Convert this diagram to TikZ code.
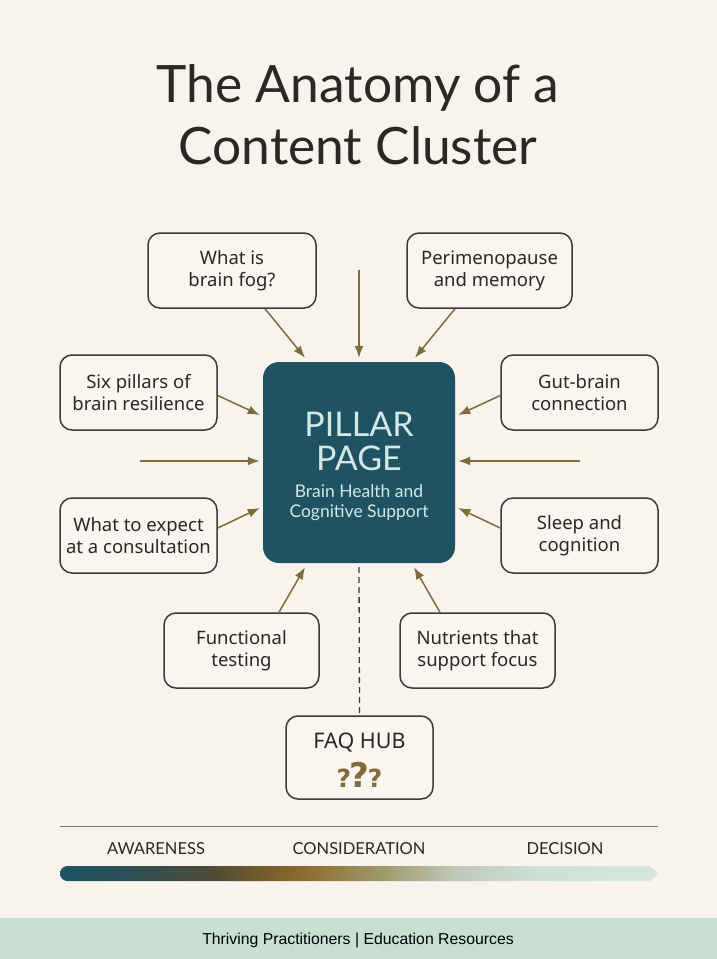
\documentclass[tikz,border=0pt]{standalone}
\usepackage{fontspec}
\setmainfont{Lato}
\newfontfamily\footfont{Liberation Sans}
\newfontfamily\boxfont{Noto Sans}
\newfontfamily\qfont{DejaVu Sans}
\usetikzlibrary{arrows.meta}
\definecolor{bg}{HTML}{F8F3EC}
\definecolor{boxfill}{HTML}{FAF6EF}
\definecolor{boxline}{HTML}{3A3A36}
\definecolor{teal}{HTML}{1F5364}
\definecolor{olive}{HTML}{7F6B3C}
\definecolor{ink}{HTML}{2A2824}
\definecolor{mintTxt}{HTML}{D2E8E4}
\definecolor{footer}{HTML}{C8E0D3}
\definecolor{divider}{HTML}{7A7A72}
\definecolor{gA}{HTML}{1F5364}
\definecolor{gA2}{HTML}{2A5058}
\definecolor{gB}{HTML}{504B36}
\definecolor{gC}{HTML}{8C6A2A}
\definecolor{gD}{HTML}{9E9A6C}
\definecolor{gE}{HTML}{C0C8B8}
\definecolor{gF}{HTML}{CFE0D6}
\definecolor{gG}{HTML}{D5E6DC}
\pgfdeclarehorizontalshading{stagebar}{100bp}{color(0bp)=(gA); color(25bp)=(gA); color(30bp)=(gA2); color(38bp)=(gB); color(45bp)=(gC); color(52bp)=(gD); color(58bp)=(gE); color(65bp)=(gF); color(75bp)=(gG); color(100bp)=(gG)}
\tikzset{
  topic/.style={draw=boxline, fill=boxfill, line width=1.5pt, rounded corners=12pt,
    minimum height=75pt, inner sep=0pt, align=center, text=ink,
    font=\boxfont\fontsize{18.5}{22}\selectfont},
  link/.style={draw=olive, line width=1.5pt, -{Latex[length=12pt,width=9pt]}},
}
\begin{document}
\begin{tikzpicture}[x=1pt,y=-1pt]
\useasboundingbox (0,0) rectangle (717,959);
\fill[bg] (0,0) rectangle (717,959);
\fill[footer] (0,918) rectangle (717,959);

% title
\node[text=ink, font=\fontsize{51.5}{60}\selectfont] (t1) at (358,88) {The Anatomy of a};
\node[text=ink, font=\fontsize{51.5}{60}\selectfont] (t2) at (358,146) {Content Cluster};

% pillar
\node[fill=teal, rounded corners=16pt, minimum width=192pt, minimum height=201pt, inner sep=0pt] (pillar) at (359,462.5) {};
\node[text=mintTxt, align=center, font=\fontsize{34}{34}\selectfont] (pt) at (359,441) {PILLAR\\PAGE};
\node[text=mintTxt, align=center, font=\fontsize{17.5}{20}\selectfont] (ps) at (359,503) {Brain Health and\\Cognitive Support};

% topic boxes
\node[topic, minimum width=168pt] (fog) at (232,270.5) {What is\\brain fog?};
\node[topic, minimum width=165pt] (peri) at (489.5,270.5) {Perimenopause\\and memory};
\node[topic, minimum width=157pt] (six) at (138.5,392.5) {Six pillars of\\brain resilience};
\node[topic, minimum width=157pt] (gut) at (579.5,392.5) {Gut-brain\\connection};
\node[topic, minimum width=157pt] (cons) at (138.5,535.5) {What to expect\\at a consultation};
\node[topic, minimum width=157pt] (sleep) at (579.5,535.5) {Sleep and\\cognition};
\node[topic, minimum width=155pt] (func) at (241.5,650.5) {Functional\\testing};
\node[topic, minimum width=155pt] (nut) at (477.5,650.5) {Nutrients that\\support focus};
\node[topic, minimum width=147pt, minimum height=83pt] (faq) at (359.5,757.5) {};
\node[text=ink, font=\boxfont\fontsize{21.5}{24}\selectfont] (faqt) at (359.5,743) {FAQ HUB};
\node[text=olive, font=\qfont\bfseries, inner sep=0pt, anchor=base] (faqq) at (359.5,787) {{\fontsize{25}{28}\selectfont ?}\kern-1.5pt{\fontsize{34}{36}\selectfont ?}\kern-1.5pt{\fontsize{25}{28}\selectfont ?}};

% free ends
\coordinate (topfree) at (359,270);
\coordinate (leftfree) at (140,461);
\coordinate (rightfree) at (580,461);

% connectors
\draw[link] ([xshift=33pt]fog.south) -- ([xshift=-54pt,yshift=4pt]pillar.north);
\draw[link] (topfree) -- ([yshift=4pt]pillar.north);
\draw[link] ([xshift=-34.5pt]peri.south) -- ([xshift=56pt,yshift=4pt]pillar.north);
\draw[link] ([yshift=-3pt]six.east) -- ([xshift=-3pt,yshift=47.5pt]pillar.west);
\draw[link] ([yshift=-3pt]gut.west) -- ([xshift=3pt,yshift=47.5pt]pillar.east);
\draw[link] (leftfree) -- ([xshift=-3pt,yshift=1.5pt]pillar.west);
\draw[link] (rightfree) -- ([xshift=3pt,yshift=1.5pt]pillar.east);
\draw[link] ([yshift=7.5pt]cons.east) -- ([xshift=-3pt,yshift=-45.5pt]pillar.west);
\draw[link] ([yshift=7.5pt]sleep.west) -- ([xshift=3pt,yshift=-45.5pt]pillar.east);
\draw[link] ([xshift=37.5pt]func.north) -- ([xshift=-54pt,yshift=-4pt]pillar.south);
\draw[link] ([xshift=-37.5pt]nut.north) -- ([xshift=55pt,yshift=-4pt]pillar.south);
\draw[boxline, line width=1.3pt, dash pattern=on 6pt off 4pt] ([yshift=-4pt]pillar.south) -- (faq.north);

% stage line
\coordinate (dl) at (60,826);
\coordinate (dr) at (658,826);
\draw[divider, line width=1pt] (dl) -- (dr);
\node[text=ink, font=\fontsize{16.5}{18}\selectfont] (s1) at (156,849) {AWARENESS};
\node[text=ink, font=\fontsize{16.5}{18}\selectfont] (s2) at (359,849) {CONSIDERATION};
\node[text=ink, font=\fontsize{16.5}{18}\selectfont] (s3) at (565,849) {DECISION};
\path[shading=stagebar] (67.5,881) arc[start angle=90, end angle=270, radius=7.5] -- (650,866) -- (658,873.5) -- (650,881) -- cycle;

% footer
\node[text=black, font=\footfont\fontsize{15.8}{18}\selectfont] (foot) at (358,940) {Thriving Practitioners | Education Resources};
\end{tikzpicture}
\end{document}
